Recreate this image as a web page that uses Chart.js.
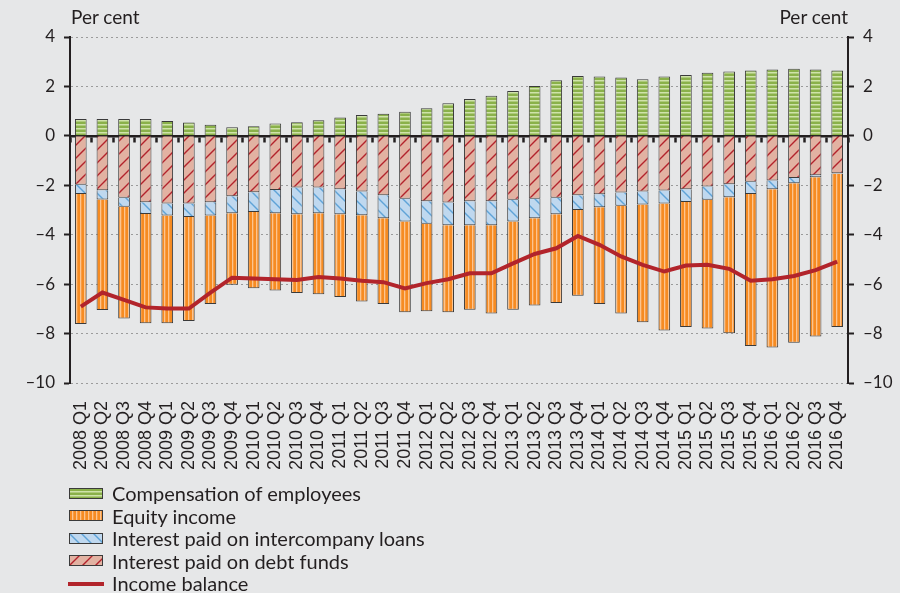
<!DOCTYPE html>
<html>
<head>
<meta charset="utf-8">
<script src="https://cdn.jsdelivr.net/npm/chart.js@4.4.0/dist/chart.umd.min.js"></script>
<style>
    body { margin: 0; background: #e6e7e8; }
    #wrap { position: relative; width: 900px; height: 593px; background: #e6e7e8; }
    #grafico { position: absolute; left: 0; top: 0; }
    .unidade { position: absolute; top: 5px; font: 19px Lato, sans-serif; color: #231f20; }
    #legenda { position: absolute; left: 68px; top: 482px; font: 20px Lato, sans-serif; color: #231f20; }
    .linha { height: 22.5px; display: flex; align-items: center; }
    .linha canvas { margin-right: 8px; }
</style>
</head>
<body>
<div id="wrap">
    <canvas id="grafico" width="900" height="593"></canvas>
    <div class="unidade" style="left:71px">Per cent</div>
    <div class="unidade" style="right:52px">Per cent</div>
    <div id="legenda"></div>
</div>
<script>

const trimestres = [
    "2008 Q1", "2008 Q2", "2008 Q3", "2008 Q4",
    "2009 Q1", "2009 Q2", "2009 Q3", "2009 Q4",
    "2010 Q1", "2010 Q2", "2010 Q3", "2010 Q4",
    "2011 Q1", "2011 Q2", "2011 Q3", "2011 Q4",
    "2012 Q1", "2012 Q2", "2012 Q3", "2012 Q4",
    "2013 Q1", "2013 Q2", "2013 Q3", "2013 Q4",
    "2014 Q1", "2014 Q2", "2014 Q3", "2014 Q4",
    "2015 Q1", "2015 Q2", "2015 Q3", "2015 Q4",
    "2016 Q1", "2016 Q2", "2016 Q3", "2016 Q4"
];

const remuneracao = [
    0.68, 0.68, 0.68, 0.68, 0.60, 0.54, 0.45, 0.35, 0.39, 0.50, 0.55, 0.63,
    0.74, 0.84, 0.89, 0.98, 1.12, 1.32, 1.49, 1.62, 1.81, 2.02, 2.25, 2.42,
    2.40, 2.36, 2.29, 2.40, 2.46, 2.55, 2.60, 2.64, 2.68, 2.72, 2.68, 2.64
];

const rendimentoCapital = [
    -5.26, -4.47, -4.52, -4.42, -4.36, -4.21, -3.58, -2.89, -3.09, -3.13, -3.19, -3.28,
    -3.35, -3.49, -3.47, -3.67, -3.54, -3.52, -3.42, -3.57, -3.57, -3.53, -3.59, -3.47,
    -3.91, -4.36, -4.76, -5.14, -5.05, -5.20, -5.51, -6.15, -6.40, -6.45, -6.45, -6.20
];

const jurosEmpresas = [
    -0.37, -0.38, -0.37, -0.47, -0.48, -0.54, -0.53, -0.69, -0.80, -0.94, -1.08, -1.04,
    -1.01, -0.96, -0.93, -0.93, -0.91, -0.92, -0.97, -0.97, -0.88, -0.79, -0.67, -0.60,
    -0.53, -0.54, -0.53, -0.53, -0.52, -0.54, -0.52, -0.49, -0.35, -0.21, -0.08, -0.02
];

const jurosDivida = [
    -1.98, -2.20, -2.50, -2.69, -2.74, -2.74, -2.69, -2.44, -2.28, -2.19, -2.09, -2.09,
    -2.16, -2.25, -2.40, -2.54, -2.65, -2.70, -2.65, -2.65, -2.59, -2.54, -2.50, -2.40,
    -2.36, -2.29, -2.25, -2.21, -2.16, -2.05, -1.96, -1.86, -1.81, -1.71, -1.59, -1.51
];

const saldo = [
    -6.91, -6.34, -6.64, -6.94, -6.99, -6.99, -6.34, -5.74, -5.77, -5.80, -5.83, -5.71,
    -5.77, -5.86, -5.92, -6.17, -5.96, -5.80, -5.56, -5.56, -5.16, -4.78, -4.55, -4.05,
    -4.41, -4.88, -5.22, -5.49, -5.25, -5.22, -5.38, -5.86, -5.80, -5.67, -5.43, -5.09
];

const COR_TEXTO = "#231f20";
const COR_BORDA = "#3a3a3a";

// padroes de preenchimento das barras
function padrao(tipo) {
    const c = document.createElement("canvas");
    const g = c.getContext("2d");

    if (tipo === "horizontal") {
        c.width = 4; c.height = 4;
        g.fillStyle = "#8ab14a"; g.fillRect(0, 0, 4, 4);
        g.fillStyle = "#cfe3aa"; g.fillRect(0, 0, 4, 1.5);
    }
    if (tipo === "vertical") {
        c.width = 4; c.height = 4;
        g.fillStyle = "#f68b22"; g.fillRect(0, 0, 4, 4);
        g.fillStyle = "#fcc48f"; g.fillRect(0, 0, 1.3, 4);
    }
    if (tipo === "barraInvertida") {
        c.width = 12; c.height = 12;
        g.fillStyle = "#bfd8ef"; g.fillRect(0, 0, 12, 12);
        g.strokeStyle = "#5fa3d7"; g.lineWidth = 1.4;
        g.beginPath();
        g.moveTo(-2, -2); g.lineTo(14, 14);
        g.moveTo(-2, 10); g.lineTo(2, 14);
        g.moveTo(10, -2); g.lineTo(14, 2);
        g.stroke();
    }
    if (tipo === "barra") {
        c.width = 13; c.height = 13;
        g.fillStyle = "#e2b2a2"; g.fillRect(0, 0, 13, 13);
        g.strokeStyle = "#b3232c"; g.lineWidth = 1.4;
        g.beginPath();
        g.moveTo(-2, 15); g.lineTo(15, -2);
        g.moveTo(-2, 2); g.lineTo(2, -2);
        g.moveTo(11, 15); g.lineTo(15, 11);
        g.stroke();
    }

    return g.createPattern(c, "repeat");
}

const padraoVerde = padrao("horizontal");
const padraoLaranja = padrao("vertical");
const padraoAzul = padrao("barraInvertida");
const padraoSalmao = padrao("barra");

function tracoNegativo(valor) {
    return valor < 0 ? "\u2013" + Math.abs(valor) : String(valor);
}

function barra(label, dados, fundo) {
    return {
        type: "bar",
        label: label,
        data: dados,
        backgroundColor: fundo,
        borderColor: COR_BORDA,
        borderWidth: 1,
        stack: "a",
        order: 1,
        barPercentage: 0.54,
        categoryPercentage: 1
    };
}

const eixoY = {
    min: -10,
    max: 4,
    ticks: {
        stepSize: 2,
        color: COR_TEXTO,
        padding: 9,
        font: { family: "Lato", size: 17 },
        callback: tracoNegativo
    },
    border: { display: true, color: COR_TEXTO, width: 2, dash: [2, 3] },
    grid: {
        color: "#9b9b9b",
        lineWidth: 1,
        tickColor: COR_TEXTO,
        tickWidth: 2,
        tickLength: 6,
        tickBorderDash: []
    }
};

new Chart(document.getElementById("grafico"), {

    data: {
        labels: trimestres,
        datasets: [
            barra("Compensation of employees", remuneracao, padraoVerde),
            barra("Interest paid on debt funds", jurosDivida, padraoSalmao),
            barra("Interest paid on intercompany loans", jurosEmpresas, padraoAzul),
            barra("Equity income", rendimentoCapital, padraoLaranja),
            {
                type: "line",
                label: "Income balance",
                data: saldo,
                borderColor: "#b2242b",
                borderWidth: 4,
                pointRadius: 0,
                tension: 0,
                stack: "linha",
                order: 0
            }
        ]
    },

    options: {
        responsive: false,
        animation: false,
        layout: { padding: { top: 37, left: 0, right: 0, bottom: 0 } },

        plugins: {
            legend: { display: false },
            tooltip: { enabled: false }
        },

        scales: {
            x: {
                type: "category",
                stacked: true,
                offset: true,
                grid: { display: false },
                border: { display: false },
                ticks: {
                    autoSkip: false,
                    minRotation: 90,
                    maxRotation: 90,
                    padding: 10,
                    color: COR_TEXTO,
                    font: { family: "Liberation Sans", size: 18 }
                },
                afterFit: function(escala) { escala.height = 210; }
            },

            zero: {
                type: "category",
                axis: "x",
                position: { y: 0 },
                offset: true,
                z: 1,
                ticks: { display: false },
                grid: {
                    offset: true,
                    drawOnChartArea: false,
                    drawTicks: true,
                    tickLength: 5,
                    tickWidth: 2.5,
                    tickColor: COR_TEXTO
                },
                border: { color: COR_TEXTO, width: 2.5 }
            },

            y: Object.assign({}, eixoY, {
                position: "left",
                stacked: true,
                afterFit: function(escala) { escala.width = 70; }
            }),

            y2: Object.assign({}, eixoY, {
                position: "right",
                grid: Object.assign({}, eixoY.grid, { drawOnChartArea: false }),
                afterFit: function(escala) { escala.width = 52; }
            })
        }
    }
});

// legenda em html, na ordem do original
const itensLegenda = [
    { texto: "Compensation of employees", fundo: padraoVerde },
    { texto: "Equity income", fundo: padraoLaranja },
    { texto: "Interest paid on intercompany loans", fundo: padraoAzul },
    { texto: "Interest paid on debt funds", fundo: padraoSalmao },
    { texto: "Income balance", linha: "#b2242b" }
];

const legenda = document.getElementById("legenda");

itensLegenda.forEach(function(item) {

    const linha = document.createElement("div");
    linha.className = "linha";

    const amostra = document.createElement("canvas");
    amostra.width = 36;
    amostra.height = 13;
    const g = amostra.getContext("2d");

    if (item.linha) {
        g.fillStyle = item.linha;
        g.fillRect(0, 5, 36, 4);
    } else {
        g.fillStyle = item.fundo;
        g.fillRect(1, 1, 34, 11);
        g.strokeStyle = COR_BORDA;
        g.lineWidth = 1;
        g.strokeRect(1.5, 1.5, 33, 10);
    }

    const texto = document.createElement("span");
    texto.textContent = item.texto;

    linha.appendChild(amostra);
    linha.appendChild(texto);
    legenda.appendChild(linha);
});

</script>
</body>
</html>
